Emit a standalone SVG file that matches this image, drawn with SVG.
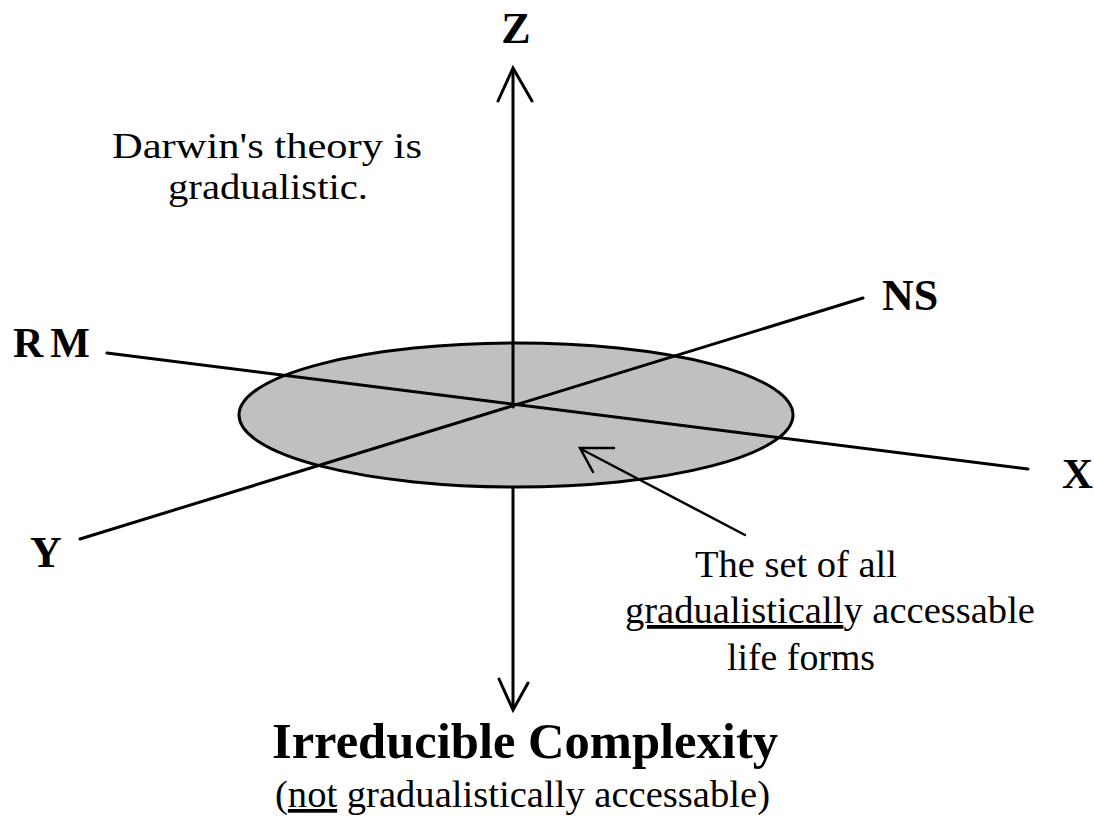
<svg xmlns="http://www.w3.org/2000/svg" width="1094" height="819" viewBox="0 0 1094 819">
<style>
.ax{stroke:#000;stroke-width:3;fill:none;stroke-linecap:round;stroke-linejoin:miter}
.thin{stroke:#000;stroke-width:2.5;fill:none;stroke-linecap:round}
.lbl{font-family:"Liberation Serif","Times New Roman",serif;font-weight:bold;fill:#000}
.txt{font-family:"Liberation Serif","Times New Roman",serif;fill:#000}
</style>
<rect width="1094" height="819" fill="#fff"/>
<g id="plane">
<ellipse cx="516" cy="415" rx="277" ry="72" fill="#C0C0C0" stroke="#000" stroke-width="3"/>
</g>
<g id="connectors">
<line class="ax" x1="513" y1="70" x2="513" y2="407"/>
<polyline class="ax" points="498,101 513,68 532,101"/>
<line class="ax" x1="513" y1="488" x2="513" y2="708"/>
<polyline class="ax" points="499,679 513,710 528,683"/>
<line class="ax" x1="107" y1="353" x2="1028" y2="469"/>
<line class="ax" x1="80" y1="539" x2="863" y2="298"/>
<line class="thin" x1="745" y1="535" x2="581" y2="449"/>
<polyline class="thin" points="614,448 580,448 593,472"/>
</g>
<g id="z-label"><text class="lbl" x="516" y="43" font-size="44" text-anchor="middle">Z</text></g>
<g id="rm-label"><text class="lbl" x="13" y="357" font-size="42" letter-spacing="7">RM</text></g>
<g id="ns-label"><text class="lbl" x="882" y="310" font-size="44">NS</text></g>
<g id="x-label"><text class="lbl" x="1062" y="488" font-size="43">X</text></g>
<g id="y-label"><text class="lbl" x="30" y="567" font-size="44">Y</text></g>
<g id="darwin-note">
<text class="txt" x="112" y="158" font-size="36" textLength="310" lengthAdjust="spacingAndGlyphs">Darwin's theory is</text>
<text class="txt" x="168" y="199" font-size="36" textLength="200" lengthAdjust="spacingAndGlyphs">gradualistic.</text>
</g>
<g id="set-note">
<text class="txt" font-size="38" x="695" y="577" textLength="202" lengthAdjust="spacingAndGlyphs">The set of all</text>
<text class="txt" font-size="38" x="625" y="623" textLength="410" lengthAdjust="spacingAndGlyphs"><tspan text-decoration="underline">gradualisticall</tspan>y accessable</text>
<text class="txt" font-size="38" x="727" y="670" textLength="148" lengthAdjust="spacingAndGlyphs">life forms</text>
</g>
<g id="ic-label">
<text class="lbl" x="272" y="758" font-size="50" textLength="506" lengthAdjust="spacingAndGlyphs">Irreducible Complexity</text>
<text class="txt" x="275" y="807" font-size="37" textLength="495" lengthAdjust="spacingAndGlyphs">(<tspan text-decoration="underline">not</tspan> gradualistically accessable)</text>
</g>
</svg>
